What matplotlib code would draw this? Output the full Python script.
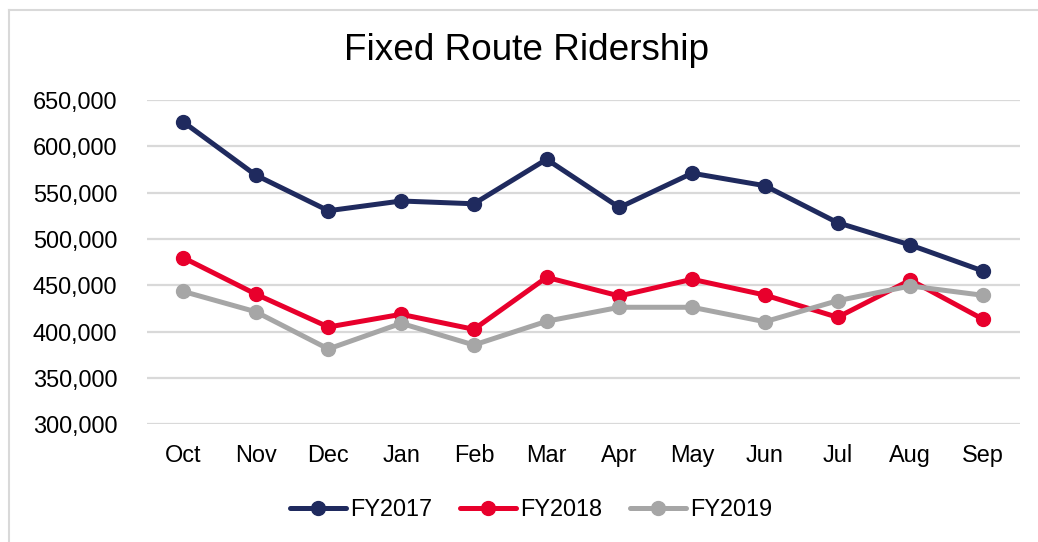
import matplotlib
matplotlib.use("Agg")
import matplotlib.pyplot as plt
from matplotlib.ticker import FuncFormatter
from matplotlib.lines import Line2D

months = ["Oct", "Nov", "Dec", "Jan", "Feb", "Mar", "Apr", "May", "Jun", "Jul", "Aug", "Sep"]
fy2017 = [626600, 569000, 530500, 541000, 538000, 586000, 534000, 571000, 557500, 517600, 493500, 465400]
fy2018 = [480000, 440600, 405000, 418700, 402500, 458600, 438500, 456500, 439500, 415500, 455700, 413300]
fy2019 = [443500, 421500, 381300, 409000, 385600, 411200, 426300, 426300, 410700, 433400, 449300, 439200]
series_names = ["FY2017", "FY2018", "FY2019"]
colors = ["#1F2A5E", "#E8002C", "#A6A6A6"]

plt.rcParams['font.family'] = ['Liberation Sans', 'DejaVu Sans']

W, H = 1038, 542
fig = plt.figure(figsize=(W / 100, H / 100), dpi=100)
ax = fig.add_axes([146.5 / W, (H - 424.3) / H, 873 / W, 324.3 / H])

x = list(range(len(months)))
for vals, name, c in zip([fy2017, fy2018, fy2019], series_names, colors):
    ax.plot(x, vals, color=c, lw=3.6, marker='o', markersize=10, label=name,
            solid_joinstyle='round', solid_capstyle='round', zorder=3)

ax.set_xlim(-0.5, 11.5)
ax.set_ylim(300000, 650000)
ax.set_yticks(range(300000, 650001, 50000))
ax.yaxis.set_major_formatter(FuncFormatter(lambda v, p: f"{int(v):,}"))
ax.set_xticks(x)
ax.set_xticklabels(months)
ax.grid(axis='y', color='#D9D9D9', lw=1.6, zorder=0)
ax.set_axisbelow(True)
for s in ax.spines.values():
    s.set_visible(False)
ax.tick_params(axis='both', length=0, labelsize=16.9, colors='#000000')
ax.tick_params(axis='y', pad=21)
ax.tick_params(axis='x', pad=14)

fig.text(527 / W, 1 - 50 / H, "Fixed Route Ridership", ha='center', va='center', fontsize=26.6)

leg = fig.legend(loc='center', bbox_to_anchor=(531 / W, 1 - 510 / H), ncol=3, frameon=False,
                 fontsize=16.9, handlelength=2.4, handletextpad=0.15, columnspacing=1.2)

# chart border (partially cropped)
fig.add_artist(Line2D([8.5 / W, 8.5 / W], [0, 1 - 10 / H], transform=fig.transFigure, color='#D9D9D9', lw=1.5))
fig.add_artist(Line2D([8.5 / W, 1], [1 - 10 / H, 1 - 10 / H], transform=fig.transFigure, color='#D9D9D9', lw=1.5))

fig.savefig("out.png", dpi=100)
